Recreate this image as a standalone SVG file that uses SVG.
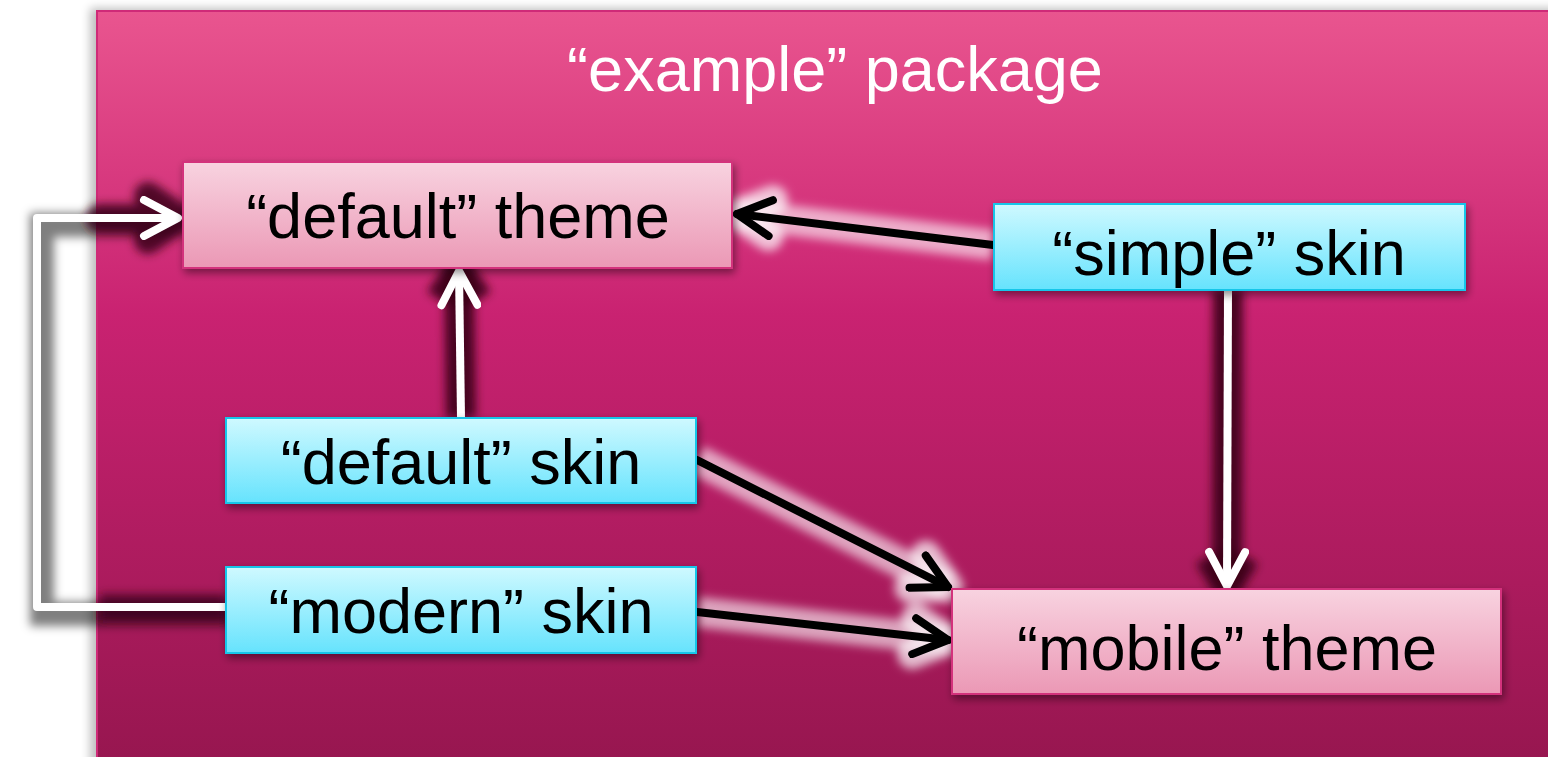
<svg xmlns="http://www.w3.org/2000/svg" width="1548" height="757" viewBox="0 0 1548 757">
<defs>
<linearGradient id="pkg" x1="0" y1="0" x2="0" y2="1">
<stop offset="0" stop-color="#e9558f"/>
<stop offset="0.4" stop-color="#c92271"/>
<stop offset="1" stop-color="#96164f"/>
</linearGradient>
<linearGradient id="theme" x1="0" y1="0" x2="0" y2="1">
<stop offset="0" stop-color="#f8d3e0"/>
<stop offset="1" stop-color="#eb98b5"/>
</linearGradient>
<linearGradient id="skin" x1="0" y1="0" x2="0" y2="1">
<stop offset="0" stop-color="#cff9ff"/>
<stop offset="1" stop-color="#66e3fd"/>
</linearGradient>
<filter id="blur" filterUnits="userSpaceOnUse" x="0" y="0" width="1548" height="757"><feGaussianBlur stdDeviation="5"/></filter>
<filter id="shadow" x="-10%" y="-10%" width="130%" height="140%">
<feGaussianBlur in="SourceAlpha" stdDeviation="4"/>
<feOffset dx="2" dy="4" result="b"/>
<feComponentTransfer><feFuncA type="linear" slope="0.45"/></feComponentTransfer>
<feMerge><feMergeNode/><feMergeNode in="SourceGraphic"/></feMerge>
</filter>
<marker id="ahw" viewBox="-40 -22 46 44" refX="0" refY="0" markerWidth="46" markerHeight="44" markerUnits="userSpaceOnUse" orient="auto">
<path d="M-34,-18 L0,0 L-34,18" fill="none" stroke="#ffffff" stroke-width="8" stroke-linecap="round" stroke-linejoin="round"/>
</marker>
<marker id="ahk" viewBox="-40 -22 46 44" refX="0" refY="0" markerWidth="46" markerHeight="44" markerUnits="userSpaceOnUse" orient="auto">
<path d="M-34,-18 L0,0 L-34,18" fill="none" stroke="#000000" stroke-width="8" stroke-linecap="round" stroke-linejoin="round"/>
</marker>
<marker id="ahg" viewBox="-60 -40 80 80" refX="0" refY="0" markerWidth="80" markerHeight="80" markerUnits="userSpaceOnUse" orient="auto">
<path d="M-34,-18 L0,0 L-34,18" fill="none" stroke="#3a0018" stroke-opacity="0.9" stroke-width="28" stroke-linecap="round" stroke-linejoin="round"/>
</marker>
<marker id="ahp" viewBox="-60 -40 80 80" refX="0" refY="0" markerWidth="80" markerHeight="80" markerUnits="userSpaceOnUse" orient="auto">
<path d="M-34,-18 L0,0 L-34,18" fill="none" stroke="#fff" stroke-opacity="0.7" stroke-width="30" stroke-linecap="round" stroke-linejoin="round"/>
</marker>
</defs>
<style>
.lbl{font-family:"Liberation Sans",Arial,sans-serif;font-size:63px;fill:#000;text-anchor:middle}
.title{font-family:"Liberation Sans",Arial,sans-serif;font-size:63px;fill:#fff;text-anchor:middle}
.theme{fill:url(#theme);stroke:#d3327c;stroke-width:2}
.skin{fill:url(#skin);stroke:#19c6e9;stroke-width:2}
.wl{fill:none;stroke:#fff;stroke-width:8;stroke-linejoin:round}
.bl{fill:none;stroke:#000;stroke-width:8;stroke-linecap:round}
.gw{fill:none;stroke:#3a0018;stroke-opacity:0.9;stroke-width:30}
.gp{fill:none;stroke:#fff;stroke-opacity:0.6;stroke-width:30}
</style>
<rect width="1548" height="757" fill="#ffffff"/>
<g id="package">
<rect x="90" y="8" width="1470" height="760" fill="#000" opacity="0.25" filter="url(#blur)"/>
<rect x="97" y="11" width="1460" height="760" fill="url(#pkg)" stroke="#cf2a78" stroke-width="2"/>
<text class="title" x="835" y="91">“example” package</text>
</g>
<g id="connectors">
<g filter="url(#blur)">
<polyline points="226,607 37,607 37,218 178,218" fill="none" stroke="#000" stroke-opacity="0.5" stroke-width="24" transform="translate(5,7)"/>
<path class="gw" d="M461,418 L459,271"/>
<path class="gw" d="M440,300 L459,271 L478,300"/>
<path class="gw" d="M1228,290 L1227,586"/>
<path class="gw" d="M1209,556 L1227,586 L1245,556"/>
<line class="gp" x1="993" y1="245" x2="737" y2="214" marker-end="url(#ahp)"/>
<line class="gp" x1="697" y1="460" x2="948" y2="587" marker-end="url(#ahp)"/>
<line class="gp" x1="697" y1="612" x2="948" y2="640" marker-end="url(#ahp)"/>
<path d="M100,218 L178,218 M148,196 L180,218 L148,240" fill="none" stroke="#3a0018" stroke-opacity="0.85" stroke-width="28" stroke-linecap="round"/>
<line x1="100" y1="607" x2="226" y2="607" stroke="#3a0018" stroke-opacity="0.75" stroke-width="26"/>
</g>
<polyline class="wl" points="226,607 37,607 37,218 178,218" marker-end="url(#ahw)"/>
<line class="wl" x1="461" y1="418" x2="459" y2="271" marker-end="url(#ahw)"/>
<line class="wl" x1="1228" y1="290" x2="1227" y2="586" marker-end="url(#ahw)"/>
<line class="bl" x1="993" y1="245" x2="737" y2="214" marker-end="url(#ahk)"/>
<line class="bl" x1="697" y1="460" x2="948" y2="587" marker-end="url(#ahk)"/>
<line class="bl" x1="697" y1="612" x2="948" y2="640" marker-end="url(#ahk)"/>
</g>
<g id="default-theme" filter="url(#shadow)">
<rect class="theme" x="183" y="162" width="549" height="106"/>
<text class="lbl" x="458" y="238">“default” theme</text>
</g>
<g id="simple-skin" filter="url(#shadow)">
<rect class="skin" x="994" y="204" width="471" height="86"/>
<text class="lbl" x="1229" y="275">“simple” skin</text>
</g>
<g id="default-skin" filter="url(#shadow)">
<rect class="skin" x="226" y="418" width="470" height="85"/>
<text class="lbl" x="461" y="484">“default” skin</text>
</g>
<g id="modern-skin" filter="url(#shadow)">
<rect class="skin" x="226" y="567" width="470" height="86"/>
<text class="lbl" x="461" y="633">“modern” skin</text>
</g>
<g id="mobile-theme" filter="url(#shadow)">
<rect class="theme" x="952" y="589" width="549" height="105"/>
<text class="lbl" x="1227" y="670">“mobile” theme</text>
</g>
</svg>
